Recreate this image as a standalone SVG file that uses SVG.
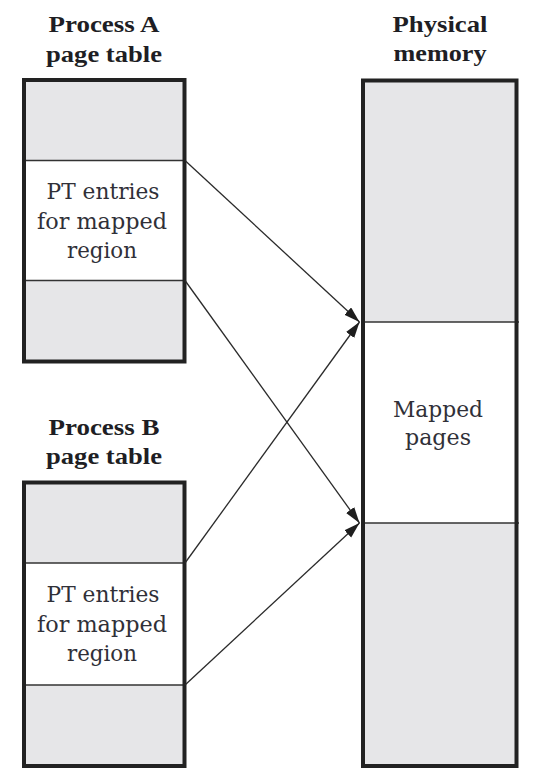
<svg xmlns="http://www.w3.org/2000/svg" width="542" height="775" viewBox="0 0 542 775">
<style>
.title{font-family:"Liberation Serif","Times New Roman",serif;font-weight:bold;font-size:24px;fill:#1e1e24;text-anchor:middle}
.body{font-family:"DejaVu Serif","Liberation Serif",serif;font-size:22.5px;fill:#303038;text-anchor:middle}
.gray{fill:#e6e6e8;stroke:none}
.white{fill:#ffffff;stroke:none}
.frame{fill:none;stroke:#222222;stroke-width:4}
.div{stroke:#333333;stroke-width:1.4;fill:none}
.conn{stroke:#2a2a2a;stroke-width:1.3;fill:none;marker-end:url(#ah)}
</style>
<defs>
<marker id="ah" markerUnits="userSpaceOnUse" markerWidth="18" markerHeight="12" refX="16" refY="5" orient="auto">
<path d="M0,0 L16,5 L0,10 z" fill="#1e1e1e"/>
</marker>
</defs>
<rect width="542" height="775" fill="#ffffff"/>

<g id="processA">
<text class="title" x="104" y="32" textLength="111" lengthAdjust="spacingAndGlyphs">Process A</text>
<text class="title" x="104" y="62" textLength="116" lengthAdjust="spacingAndGlyphs">page table</text>
<rect class="gray" x="24" y="80" width="160.5" height="80.5"/>
<rect class="white" x="24" y="160.5" width="160.5" height="120"/>
<rect class="gray" x="24" y="280.5" width="160.5" height="81"/>
<line class="div" x1="24" y1="160.5" x2="184.5" y2="160.5"/>
<line class="div" x1="24" y1="280.5" x2="184.5" y2="280.5"/>
<rect class="frame" x="24" y="80" width="160.5" height="281.5"/>
<text class="body" x="103" y="199" textLength="113" lengthAdjust="spacingAndGlyphs">PT entries</text>
<text class="body" x="102" y="229" textLength="130" lengthAdjust="spacingAndGlyphs">for mapped</text>
<text class="body" x="102" y="258" textLength="70" lengthAdjust="spacingAndGlyphs">region</text>
</g>

<g id="processB">
<text class="title" x="104" y="435" textLength="111" lengthAdjust="spacingAndGlyphs">Process B</text>
<text class="title" x="104" y="464" textLength="116" lengthAdjust="spacingAndGlyphs">page table</text>
<rect class="gray" x="24" y="482.5" width="160.5" height="80.5"/>
<rect class="white" x="24" y="563" width="160.5" height="122"/>
<rect class="gray" x="24" y="685" width="160.5" height="81"/>
<line class="div" x1="24" y1="563" x2="184.5" y2="563"/>
<line class="div" x1="24" y1="685" x2="184.5" y2="685"/>
<rect class="frame" x="24" y="482.5" width="160.5" height="283.5"/>
<text class="body" x="103" y="602" textLength="113" lengthAdjust="spacingAndGlyphs">PT entries</text>
<text class="body" x="102" y="632" textLength="130" lengthAdjust="spacingAndGlyphs">for mapped</text>
<text class="body" x="102" y="661" textLength="70" lengthAdjust="spacingAndGlyphs">region</text>
</g>

<g id="physical">
<text class="title" x="440" y="32" textLength="95" lengthAdjust="spacingAndGlyphs">Physical</text>
<text class="title" x="440" y="61" textLength="93" lengthAdjust="spacingAndGlyphs">memory</text>
<rect class="gray" x="363" y="80.5" width="153.5" height="241.5"/>
<rect class="white" x="363" y="322" width="153.5" height="201"/>
<rect class="gray" x="363" y="523" width="153.5" height="243"/>
<line class="div" x1="363" y1="322" x2="519" y2="322"/>
<line class="div" x1="363" y1="523" x2="519" y2="523"/>
<rect class="frame" x="363" y="80.5" width="153.5" height="685.5"/>
<text class="body" x="438" y="417" textLength="90" lengthAdjust="spacingAndGlyphs">Mapped</text>
<text class="body" x="438" y="445" textLength="66" lengthAdjust="spacingAndGlyphs">pages</text>
</g>

<g id="connectors">
<line class="conn" x1="185" y1="160.5" x2="359.5" y2="322"/>
<line class="conn" x1="185" y1="280.5" x2="359.5" y2="523"/>
<line class="conn" x1="185" y1="563" x2="359.5" y2="322"/>
<line class="conn" x1="185" y1="685" x2="359.5" y2="523"/>
</g>
</svg>
